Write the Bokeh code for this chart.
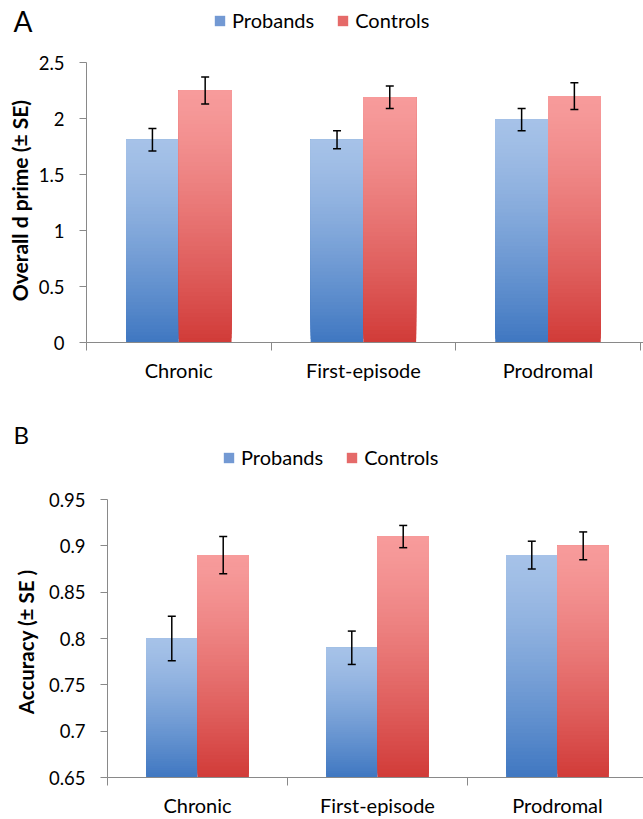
import math
from bokeh.plotting import figure
from bokeh.models import (ColumnDataSource, FixedTicker, Legend, LegendItem, Label,
                          Whisker, TeeHead, Range1d)
from bokeh.layouts import column, row
from bokeh.embed import file_html
from bokeh.resources import INLINE

# ---------------- data ----------------
categories = ["Chronic", "First-episode", "Prodromal"]
series_names = ["Probands", "Controls"]

dprime_probands = [1.81, 1.81, 1.99]
dprime_probands_se = [0.10, 0.08, 0.10]
dprime_controls = [2.25, 2.19, 2.20]
dprime_controls_se = [0.12, 0.10, 0.12]
dprime_ticks = [0, 0.5, 1, 1.5, 2, 2.5]

acc_probands = [0.80, 0.79, 0.89]
acc_probands_se = [0.024, 0.018, 0.015]
acc_controls = [0.89, 0.91, 0.90]
acc_controls_se = [0.020, 0.012, 0.015]
acc_ticks = [0.65, 0.7, 0.75, 0.8, 0.85, 0.9, 0.95]

# ---------------- style ----------------
FONT = "Lato"
AXIS_GRAY = "#898989"
BLUE_TOP, BLUE_BOT, BLUE_MID = "#a6c2e8", "#3f77c1", "#7399d3"
RED_TOP, RED_BOT, RED_MID = "#f79b9b", "#d13b38", "#e56a69"
N_BANDS = 60
GAMMA = 1.3
GAP_WIDTH = 1.5  # Excel gap width 150%
PAGE_W = 643


def hex2rgb(h):
    return tuple(int(h[i:i + 2], 16) for i in (1, 3, 5))


def mix(c_top, c_bot, f):
    a, b = hex2rgb(c_top), hex2rgb(c_bot)
    return "#%02x%02x%02x" % tuple(int(round(x + (y - x) * f)) for x, y in zip(a, b))


def blank_fig(width, height):
    # a figure whose frame covers the whole canvas, with pixel-like coordinates (y down)
    f = figure(width=width, height=height, output_backend="svg", toolbar_location=None,
               x_range=Range1d(0, width), y_range=Range1d(height, 0),
               x_axis_type=None, y_axis_type=None,
               min_border_left=0, min_border_right=0, min_border_top=0, min_border_bottom=0)
    f.outline_line_color = None
    f.grid.visible = False
    f.border_fill_color = "white"
    f.background_fill_color = "white"
    return f


def make_header(height, letter, letter_size, letter_xy, legend_xy):
    h = blank_fig(PAGE_W, height)
    h.add_layout(Label(x=letter_xy[0], y=letter_xy[1], text=letter, text_font=FONT,
                       text_font_size=letter_size, text_color="black",
                       text_align="left", text_baseline="alphabetic"))
    # hidden proxy renderers that only supply the legend swatches
    proxy_p = h.quad(left=[0], right=[0], bottom=[0], top=[0], fill_color=BLUE_MID,
                     line_color=None, visible=False)
    proxy_c = h.quad(left=[0], right=[0], bottom=[0], top=[0], fill_color=RED_MID,
                     line_color=None, visible=False)
    legend = Legend(items=[LegendItem(label=series_names[0], renderers=[proxy_p]),
                           LegendItem(label=series_names[1], renderers=[proxy_c])],
                    orientation="horizontal", location=legend_xy,
                    glyph_width=13, glyph_height=13, label_standoff=6, spacing=22,
                    padding=0, margin=0, border_line_color=None, background_fill_alpha=0,
                    inactive_fill_alpha=0,
                    label_text_font=FONT, label_text_font_size="20px",
                    label_text_color="black", label_height=13)
    h.add_layout(legend)
    return h


def make_title(width, height, text, center_xy, size):
    t = blank_fig(width, height)
    t.add_layout(Label(x=center_xy[0], y=center_xy[1], text=text, text_font=FONT,
                       text_font_size=size, text_font_style="bold", angle=math.pi / 2,
                       text_color="black", text_align="center", text_baseline="middle"))
    return t


def make_main(vals_p, se_p, vals_c, se_c, y_lo, y_hi, yticks, width,
              height, frame_left, frame_top, frame_h, cat_px, xlabel_standoff):
    frame_w = width - frame_left
    p = figure(width=width, height=height, output_backend="svg", toolbar_location=None,
               x_range=Range1d(0, frame_w / cat_px), y_range=Range1d(y_lo, y_hi),
               min_border_left=frame_left, min_border_right=0, min_border_top=frame_top,
               min_border_bottom=height - frame_top - frame_h)
    p.outline_line_color = None
    p.grid.visible = False
    p.background_fill_color = "white"
    p.border_fill_color = "white"

    w = 1.0 / (2 + GAP_WIDTH)
    groups = [(vals_p, se_p, BLUE_TOP, BLUE_BOT), (vals_c, se_c, RED_TOP, RED_BOT)]
    for j, (vals, ses, ctop, cbot) in enumerate(groups):
        L, R, B, T, C = [], [], [], [], []
        for i, v in enumerate(vals):
            left = i + 0.5 - w + j * w
            for k in range(N_BANDS):
                L.append(left)
                R.append(left + w)
                B.append(y_lo + (v - y_lo) * k / N_BANDS)
                T.append(v)
                f = 1 - (k + 0.5) / N_BANDS
                C.append(mix(ctop, cbot, f ** GAMMA))
        src = ColumnDataSource(dict(left=L, right=R, bottom=B, top=T, color=C))
        p.quad(left="left", right="right", bottom="bottom", top="top",
               fill_color="color", line_color=None, source=src)

    for j, (vals, ses, _, _) in enumerate(groups):
        xs = [i + 0.5 - w / 2 + j * w for i in range(len(vals))]
        esrc = ColumnDataSource(dict(x=xs,
                                     upper=[v + s for v, s in zip(vals, ses)],
                                     lower=[v - s for v, s in zip(vals, ses)]))
        wh = Whisker(source=esrc, base="x", upper="upper", lower="lower", level="overlay",
                     line_color="black", line_width=1.5,
                     upper_head=TeeHead(size=8, line_width=1.5, line_color="black"),
                     lower_head=TeeHead(size=8, line_width=1.5, line_color="black"))
        p.add_layout(wh)

    ya = p.yaxis[0]
    ya.ticker = FixedTicker(ticks=yticks)
    ya.major_label_overrides = {t: f"{t:g}" for t in yticks}
    ya.axis_line_color = AXIS_GRAY
    ya.major_tick_line_color = AXIS_GRAY
    ya.major_tick_out = 7
    ya.major_tick_in = 0
    ya.minor_tick_line_color = None
    ya.major_label_standoff = 15
    ya.major_label_text_font = FONT
    ya.major_label_text_font_size = "18.5px"
    ya.major_label_text_color = "black"

    xa = p.xaxis[0]
    centers = [i + 0.5 for i in range(len(categories))]
    xa.ticker = FixedTicker(ticks=centers, minor_ticks=list(range(len(categories) + 1)))
    xa.major_label_overrides = {c: name for c, name in zip(centers, categories)}
    xa.axis_line_color = AXIS_GRAY
    xa.major_tick_line_color = None
    xa.major_tick_out = 0
    xa.major_tick_in = 0
    xa.minor_tick_line_color = AXIS_GRAY
    xa.minor_tick_out = 8
    xa.minor_tick_in = 0
    xa.major_label_standoff = xlabel_standoff
    xa.major_label_text_font = FONT
    xa.major_label_text_font_size = "20px"
    xa.major_label_text_color = "black"
    return p


# ---------- panel A (page rows 0..405) ----------
hA = 50
twA = 34
headA = make_header(hA, "A", "28px", (13, 20), (213, hA - 32))
bodyA_h = 405 - hA
titleA = make_title(twA, bodyA_h, "Overall d prime (\u00b1 SE)", (19, 175), "21px")
mainA = make_main(dprime_probands, dprime_probands_se, dprime_controls, dprime_controls_se,
                  0, 2.5, dprime_ticks, width=PAGE_W - twA, height=bodyA_h,
                  frame_left=86 - twA, frame_top=62 - hA, frame_h=280, cat_px=184.6,
                  xlabel_standoff=7)

# ---------- panel B (page rows 405..819) ----------
hB = 82
twB = 44
headB = make_header(hB, "B", "24px", (13, 29), (222, hB - (469 - 405)))
bodyB_h = 414 - hB
titleB = make_title(twB, bodyB_h, "Accuracy (\u00b1 SE )", (25, 170), "20.5px")
mainB = make_main(acc_probands, acc_probands_se, acc_controls, acc_controls_se,
                  0.65, 0.95, acc_ticks, width=PAGE_W - twB, height=bodyB_h,
                  frame_left=107 - twB, frame_top=499 - 405 - hB, frame_h=279, cat_px=180.0,
                  xlabel_standoff=7)

layout = column(headA, row(titleA, mainA, spacing=0),
                headB, row(titleB, mainB, spacing=0), spacing=0)
open("out.html", "w").write(file_html(layout, INLINE))
